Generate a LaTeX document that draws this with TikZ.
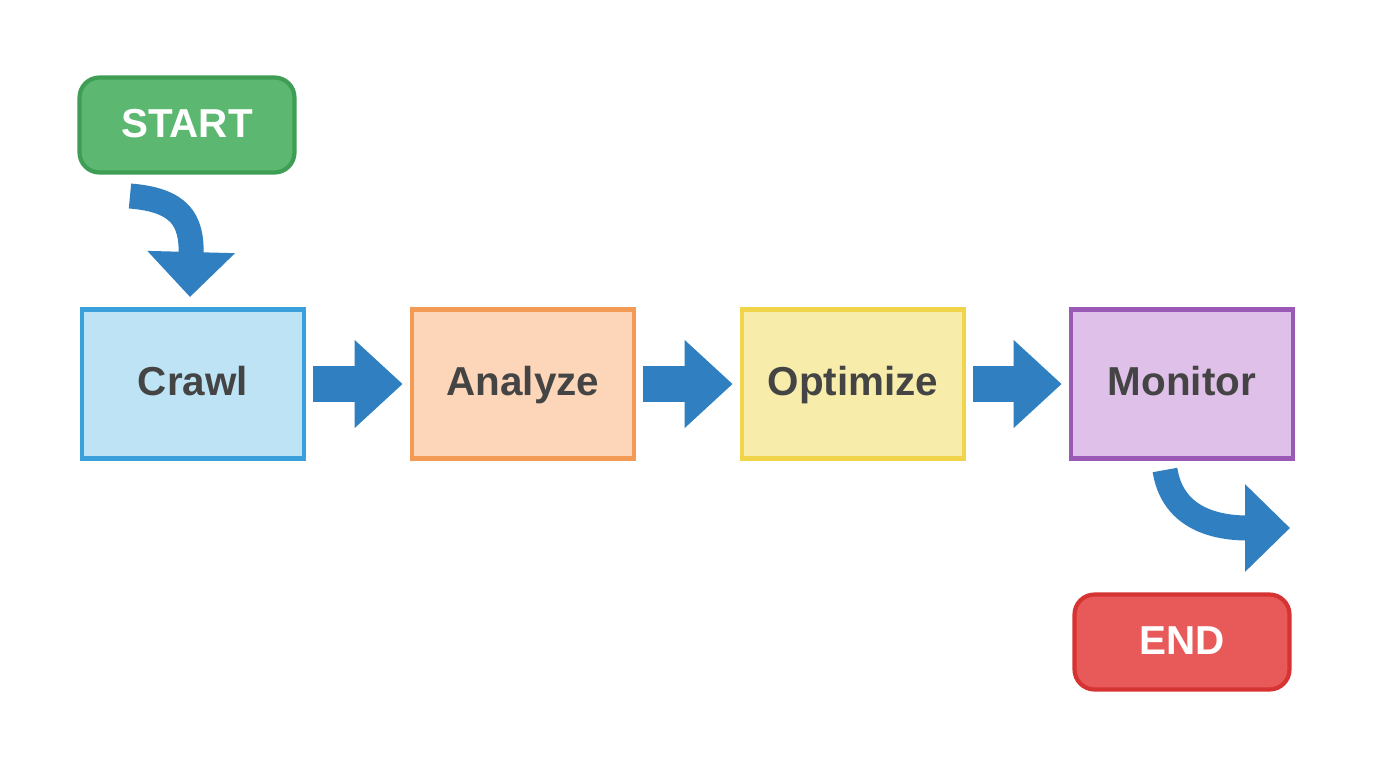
\documentclass[tikz,border=0pt]{standalone}
\usepackage{fontspec}
\setmainfont{Liberation Sans}
\usetikzlibrary{arrows.meta}
\definecolor{arr}{HTML}{2F7FC1}
\definecolor{txt}{HTML}{444444}
\definecolor{gF}{HTML}{5CB870}\definecolor{gD}{HTML}{3E9E55}
\definecolor{bF}{HTML}{BDE3F5}\definecolor{bD}{HTML}{3AA0DC}
\definecolor{oF}{HTML}{FDD5B8}\definecolor{oD}{HTML}{F39A55}
\definecolor{yF}{HTML}{F8ECAA}\definecolor{yD}{HTML}{F0D44A}
\definecolor{pF}{HTML}{DFC0E8}\definecolor{pD}{HTML}{9B59B6}
\definecolor{rF}{HTML}{E85A5A}\definecolor{rD}{HTML}{D63333}
\begin{document}
\begin{tikzpicture}[x=0.02cm,y=-0.02cm,
 box/.style={draw,line width=2.4pt,minimum width=4.45cm,minimum height=2.98cm,text height=0.55cm,text depth=0.1cm,font=\bfseries\fontsize{23}{25}\selectfont,text=txt},
 term/.style={draw,line width=2.4pt,rounded corners=0.4cm,minimum width=4.3cm,minimum height=1.9cm,text height=0.55cm,text depth=0.05cm,font=\bfseries\fontsize{23}{25}\selectfont,text=white},
 blk/.style={arr,line width=0.72cm,-{Triangle[length=0.96cm,width=1.7cm]}},
 crv/.style={arr,line width=0.5cm,-{Triangle[length=0.9cm,width=1.7cm]}}]
\useasboundingbox (0,0) rectangle (1376,768);
\fill[white] (0,0) rectangle (1376,768);
\node[term,fill=gF,draw=gD] (start) at (187,125) {START};
\node[box,fill=bF,draw=bD] (crawl) at (193,384) {Crawl};
\node[box,fill=oF,draw=oD] (analyze) at (523,384) {Analyze};
\node[box,fill=yF,draw=yD] (optimize) at (853,384) {Optimize};
\node[box,fill=pF,draw=pD] (monitor) at (1182,384) {Monitor};
\node[term,fill=rF,draw=rD] (end) at (1182,642) {END};
\draw[blk,shorten <=0.14cm,shorten >=0.14cm] (crawl.east) -- (analyze.west);
\draw[blk,shorten <=0.14cm,shorten >=0.14cm] (analyze.east) -- (optimize.west);
\draw[blk,shorten <=0.14cm,shorten >=0.14cm] (optimize.east) -- (monitor.west);
\coordinate (s0) at (130,196);
\coordinate (s1) at (190,297);
\draw[crv] (s0) .. controls (180,200) and (192,220) .. (s1);
\coordinate (m0) at (1165,470);
\coordinate (m1) at (1290,528);
\draw[crv] (m0) .. controls (1172,515) and (1210,528) .. (m1);
\end{tikzpicture}
\end{document}
